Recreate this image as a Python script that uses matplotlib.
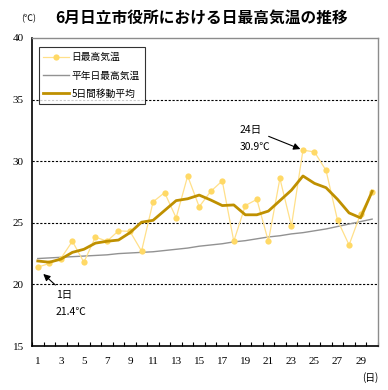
import matplotlib
matplotlib.use("Agg")
import matplotlib.pyplot as plt
import numpy as np

plt.rcParams['font.family'] = ['Noto Sans CJK JP', 'DejaVu Sans']

days = list(range(1, 31))
daily_max = [21.4, 21.7, 22.1, 23.5, 21.8, 23.85, 23.5, 24.35, 24.3, 22.7,
             26.7, 27.45, 25.4, 28.8, 26.3, 27.55, 28.4, 23.5, 26.4, 26.9,
             23.5, 28.6, 24.75, 30.9, 30.75, 29.25, 25.2, 23.2, 25.75, 27.5]
normal_max = [22.1, 22.15, 22.2, 22.25, 22.3, 22.35, 22.4, 22.5, 22.55, 22.6,
              22.65, 22.75, 22.85, 22.95, 23.1, 23.2, 23.3, 23.45, 23.55, 23.7,
              23.85, 23.95, 24.1, 24.2, 24.35, 24.5, 24.7, 24.9, 25.1, 25.3]
moving_avg = [21.9, 21.8, 22.05, 22.6, 22.85, 23.35, 23.5, 23.6, 24.2, 25.05,
              25.2, 26.0, 26.8, 26.95, 27.25, 26.85, 26.4, 26.45, 25.65, 25.65,
              25.95, 26.8, 27.65, 28.8, 28.2, 27.85, 26.9, 25.8, 25.4, 27.55]
x_tick_labels = [str(d) for d in range(1, 31, 2)]
y_ticks = [15, 20, 25, 30, 35, 40]

fig = plt.figure(figsize=(3.88, 3.90), dpi=100)
ax = fig.add_axes([0.0825, 0.1128, 0.8915, 0.7898])

c_daily_line = '#FFE08A'
c_daily = '#FFD966'
c_ma = '#BF9000'
c_norm = '#929292'

ax.plot(days, daily_max, color=c_daily_line, lw=0.9, marker='o', ms=4.5,
        markerfacecolor=c_daily, markeredgewidth=0, label='日最高気温', zorder=3)
ax.plot(days, normal_max, color=c_norm, lw=1.0, label='平年日最高気温', zorder=2)
ax.plot(days, moving_avg, color=c_ma, lw=2.0, label='5日間移動平均', zorder=4)

ax.set_xlim(0.5, 30.5)
ax.set_ylim(15, 40)
ax.set_yticks(y_ticks)
ax.set_yticklabels([str(v) for v in y_ticks], fontsize=8, family='Liberation Serif')
ax.set_xticks(list(range(1, 31, 2)))
ax.set_xticklabels(x_tick_labels, fontsize=8, family='Liberation Serif')
ax.set_xticks(np.arange(0.5, 31, 1.0), minor=True)
ax.tick_params(axis='x', which='major', length=0, pad=8)
ax.tick_params(axis='x', which='minor', direction='in', length=3, width=0.8)
ax.tick_params(axis='y', length=0, pad=6)

for v in [20, 25, 30, 35]:
    ax.axhline(v, color='black', lw=0.8, ls=(0, (2, 1.5)), zorder=1)

for s in ['left', 'bottom']:
    ax.spines[s].set_color('black')
    ax.spines[s].set_linewidth(1.2)
for s in ['top', 'right']:
    ax.spines[s].set_color('#8c8c8c')
    ax.spines[s].set_linewidth(1.0)

leg = ax.legend(loc='upper left', bbox_to_anchor=(0.005, 0.985), fontsize=7,
                frameon=True, fancybox=False, edgecolor='black',
                handlelength=2.6, borderpad=0.5, labelspacing=0.85,
                handletextpad=0.3)
leg.get_frame().set_linewidth(0.8)

fig.text(0.52, 0.953, '6月日立市役所における日最高気温の推移', ha='center', va='center',
         fontsize=11.3, fontweight='bold')
fig.text(0.075, 0.953, '(℃)', ha='center', va='center', fontsize=6.5)
fig.text(0.955, 0.033, '(日)', ha='center', va='center', fontsize=7)

ax.annotate('', xy=(24, 30.9), xytext=(20.8, 32.1),
            arrowprops=dict(arrowstyle='-|>', color='black', lw=0.8, mutation_scale=10),
            zorder=5)
ax.text(18.5, 32.55, '24日', fontsize=7.5, va='center', ha='left')
ax.text(18.5, 31.15, '30.9℃', fontsize=7.5, va='center', ha='left')

ax.annotate('', xy=(1.3, 21.0), xytext=(2.7, 19.8),
            arrowprops=dict(arrowstyle='-|>', color='black', lw=0.8, mutation_scale=10),
            zorder=5)
ax.text(2.55, 19.15, '1日', fontsize=7.5, va='center', ha='left')
ax.text(2.55, 17.75, '21.4℃', fontsize=7.5, va='center', ha='left')

fig.savefig('out.png', dpi=100)
